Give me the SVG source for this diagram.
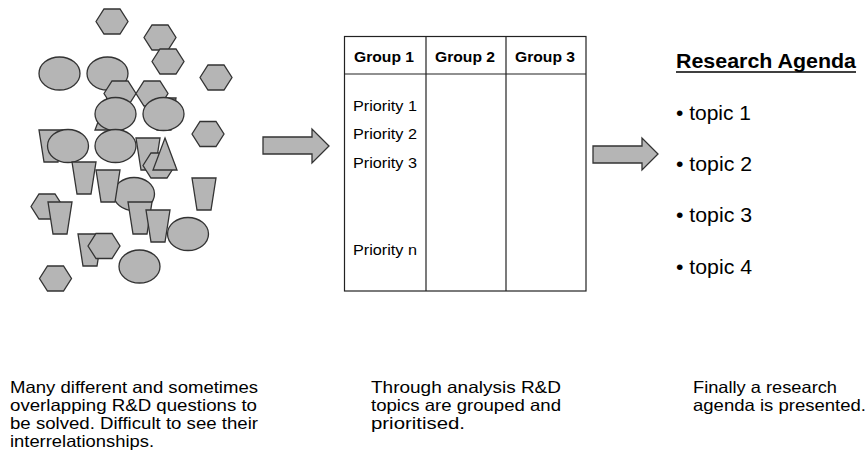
<svg xmlns="http://www.w3.org/2000/svg" width="867" height="465" viewBox="0 0 867 465">
<style>
.s{fill:#b5b5b5;stroke:#333;stroke-width:1.3}
.t{font-family:"Liberation Sans",Arial,sans-serif;fill:#000}
.ln{stroke:#222;stroke-width:1.2;fill:none}
</style>
<defs>
<polygon id="hex" class="s" points="-16,0 -8,-12.5 8,-12.5 16,0 8,12.5 -8,12.5"/>
<ellipse id="ell" class="s" cx="0" cy="0" rx="20.5" ry="16.5"/>
<polygon id="trap" class="s" points="0,0 24,0 19,32 5,32"/>
<polygon id="tri" class="s" points="12,0 24,32 0,32"/>
</defs>
<rect width="867" height="465" fill="#fff"/>

<g id="questions">
<use href="#hex" x="112" y="21.5"/>
<use href="#hex" x="160" y="37.5"/>
<use href="#hex" x="168" y="61.5"/>
<use href="#hex" x="216" y="77.5"/>
<use href="#ell" x="59.5" y="73.5"/>
<use href="#ell" x="107.5" y="73.5"/>
<use href="#tri" x="95" y="98"/>
<use href="#trap" x="152" y="98"/>
<use href="#hex" x="120" y="93.5"/>
<use href="#hex" x="152" y="93.5"/>
<use href="#ell" x="115.5" y="114"/>
<use href="#ell" x="163.5" y="114"/>
<use href="#hex" x="208" y="134"/>
<use href="#trap" x="39" y="130"/>
<use href="#ell" x="68" y="146"/>
<use href="#ell" x="115.5" y="146"/>
<use href="#trap" x="136" y="138"/>
<use href="#hex" x="159" y="165.5"/>
<use href="#tri" x="153" y="138"/>
<use href="#trap" x="72" y="162"/>
<use href="#ell" x="134" y="194"/>
<use href="#trap" x="96" y="170"/>
<use href="#hex" x="47" y="206.5"/>
<use href="#trap" x="48" y="202"/>
<use href="#trap" x="128" y="202"/>
<use href="#trap" x="146" y="210"/>
<use href="#trap" x="192" y="178"/>
<use href="#ell" x="188" y="234"/>
<use href="#trap" x="78" y="234"/>
<use href="#hex" x="104" y="246"/>
<use href="#ell" x="139.5" y="266.5"/>
<use href="#hex" x="55.5" y="278.5"/>
</g>

<g id="table">
<rect class="ln" x="344.5" y="36.5" width="241.5" height="254.5"/>
<line class="ln" x1="344.5" y1="74" x2="586" y2="74"/>
<line class="ln" x1="426" y1="36.5" x2="426" y2="291"/>
<line class="ln" x1="506" y1="36.5" x2="506" y2="291"/>
<g class="t" font-size="15.5" font-weight="bold">
<text x="354" y="62" textLength="60" lengthAdjust="spacingAndGlyphs">Group 1</text>
<text x="435" y="62" textLength="60" lengthAdjust="spacingAndGlyphs">Group 2</text>
<text x="515" y="62" textLength="60" lengthAdjust="spacingAndGlyphs">Group 3</text>
</g>
<g class="t" font-size="15.5">
<text x="353" y="110.5" textLength="64" lengthAdjust="spacingAndGlyphs">Priority 1</text>
<text x="353" y="139.3" textLength="64" lengthAdjust="spacingAndGlyphs">Priority 2</text>
<text x="353" y="167.7" textLength="64" lengthAdjust="spacingAndGlyphs">Priority 3</text>
<text x="353" y="255" textLength="64" lengthAdjust="spacingAndGlyphs">Priority n</text>
</g>
</g>

<g id="agenda">
<text class="t" x="676" y="68" font-size="21" font-weight="bold" textLength="180" lengthAdjust="spacingAndGlyphs">Research Agenda</text>
<line x1="676" y1="72" x2="856" y2="72" stroke="#000" stroke-width="1.5"/>
<g class="t" font-size="20.5">
<text x="676" y="120" textLength="75" lengthAdjust="spacingAndGlyphs">• topic 1</text>
<text x="676" y="171" textLength="76" lengthAdjust="spacingAndGlyphs">• topic 2</text>
<text x="676" y="222" textLength="76" lengthAdjust="spacingAndGlyphs">• topic 3</text>
<text x="676" y="274" textLength="76" lengthAdjust="spacingAndGlyphs">• topic 4</text>
</g>
</g>

<g id="connectors">
<polygon class="s" points="263,137 312,137 312,129 329,146 312,163 312,154 263,154"/>
<polygon class="s" points="593,146 642,146 642,138 658,154 642,170 642,163 593,163"/>
</g>

<g id="captions" class="t" font-size="16.5">
<text x="10" y="392.5" textLength="248" lengthAdjust="spacingAndGlyphs">Many different and sometimes</text>
<text x="10" y="410.7" textLength="247" lengthAdjust="spacingAndGlyphs">overlapping R&amp;D questions to</text>
<text x="10" y="429" textLength="248" lengthAdjust="spacingAndGlyphs">be solved. Difficult to see their</text>
<text x="10" y="447" textLength="144" lengthAdjust="spacingAndGlyphs">interrelationships.</text>
<text x="371" y="393" textLength="190" lengthAdjust="spacingAndGlyphs">Through analysis R&amp;D</text>
<text x="371" y="411" textLength="190" lengthAdjust="spacingAndGlyphs">topics are grouped and</text>
<text x="371" y="429" textLength="94" lengthAdjust="spacingAndGlyphs">prioritised.</text>
<text x="693" y="393" textLength="144" lengthAdjust="spacingAndGlyphs">Finally a research</text>
<text x="693" y="411" textLength="173" lengthAdjust="spacingAndGlyphs">agenda is presented.</text>
</g>
</svg>
